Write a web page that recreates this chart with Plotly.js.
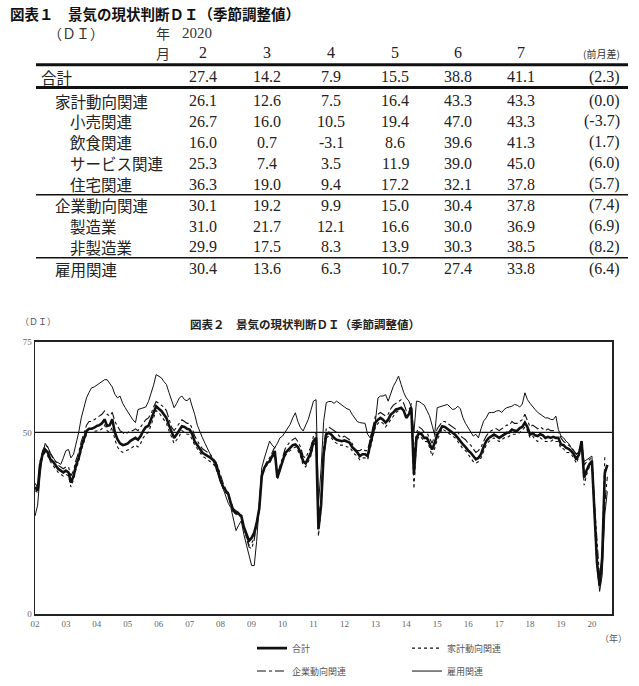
<!DOCTYPE html>
<html><head><meta charset="utf-8">
<script src="https://cdn.plot.ly/plotly-3.0.1.min.js"></script>
<style>html,body{margin:0;padding:0;background:#fff}#chart{width:639px;height:686px}</style>
</head><body><div id="chart"></div>
<script>
// ---------- chart data (monthly, Jan 2002 - Jul 2020) ----------
const startYear = 2002;
const seriesNames = ['合計', '家計動向関連', '企業動向関連', '雇用関連'];
const total = [
 35,34,41,44,45.3,44.5,42.6,42,41,40,39.5,39,
 39.5,39,36.2,38,41,43,46,48.5,50.4,51,51,51.3,
 51.8,52,52.5,53.6,51.8,52,53.6,50,48.1,47,46.5,46.7,
 47,47.7,48,48.5,48,49,50.4,51.5,51.8,53.5,55.5,57.2,
 56.5,55.9,55,54,52,50,48.5,49.5,50.5,51.7,51.5,51,
 50.8,49.5,47.5,46.3,45.5,44.4,44,43.5,43.1,42.5,41.7,39.5,
 36.7,35,34,33,30.5,28.4,28,27.5,27.1,24,22,20.2,
 21,22.5,25,29,38,40.3,41.5,42.1,43.5,44.9,37.6,40,
 42.5,44.3,45,45.8,46.5,46.7,46,44.5,42.1,41.5,43,44.4,
 47.6,48.5,23.4,30,44,49.5,49.9,49.4,48.5,48,47.8,47.6,
 47.8,47.5,47.2,46,45.3,44.5,43.5,44,44,43.5,46.7,50,
 52.7,53.5,54,53.5,52.7,53.5,54.9,55.5,56.3,56.5,56.8,56,
 54,55,56.8,38.5,48.5,49.9,49.5,48.5,48.5,47,45.3,47,
 49.4,50.5,51.7,51.5,51,50.4,50,49.4,48.5,47.5,46.7,46,
 45,44.4,43.5,42.6,43,44,46,47.6,48.5,49,49.4,49,
 48.5,49,49.5,49.9,50,50.8,50.5,50.4,51.2,51.5,52.7,51.5,
 49.4,49.8,49.2,49,49.5,49.2,48.5,48.8,48.5,48.8,48.5,48.5,
 46.7,46.5,45.8,45.5,44.9,44,42.6,44,47.6,37.6,39.7,41.2,
 42.1,27.4,14.2,7.9,15.5,38.8,41.1
];
const household = [
 34,33.5,40.5,43.5,44.5,43.5,42,41,40,39,38.5,38,
 38.5,38,35,37,40,42,45,47.5,49.5,50,50,50.3,
 50.5,50.5,51,52,50.5,50,51.5,48,46,45,44.5,44.8,
 45,45.5,46,46.5,46,47,48.5,49.5,50,52,54,56,
 55.5,54.5,53.5,52.5,50.5,48.5,47,48,49,50.5,50,49.5,
 49.5,48,46.5,45.5,44.5,43.5,43,42.5,42,41.5,40.5,38.5,
 36,34.5,33.5,32.5,30,28,27.5,27,27,23.5,21.5,19,
 19.5,21,24.5,28.5,37.5,40,41,41.5,43,44,37,39.5,
 42,43.5,44.5,45,45.5,46,45,43.5,41,40.5,42,43.5,
 46.5,47.5,21.5,29,43,48.5,49,48.5,47.5,47,46.5,46.5,
 46.5,46,46,45,44,43.5,42.5,43,43,42.5,45.5,49,
 51.5,52.5,53,52.5,51.5,52.5,53.5,54.5,55.5,56,56.5,56,
 54,55.5,58,34.5,47.5,49,48.5,47.5,47.5,46,43.5,45.5,
 48,49.5,51,50.5,50,49.5,49,48.5,47.5,46.5,45.5,45,
 44,43,42,41.5,42,43,45,46.5,47.5,48,48.5,48,
 47.5,48,48.5,48.5,49,49.5,49.5,49.5,50,50.5,51.5,50.5,
 48.5,49,48,47.5,48.5,48,47.5,47.5,47.5,48,47.5,47.5,
 45.5,45.5,44.5,44.5,44,43,41.5,43.5,48,35.5,38.5,40.5,
 41.5,26.1,12.6,7.5,16.4,43.3,43.3
];
const corporate = [
 36,35,42,45,46.5,46,44,43,42,41,40.5,40,
 40.5,40.5,38,39.5,42.5,44.5,47.5,50,52,53,53,53.5,
 54,54.5,55,55.9,55,54.5,55.5,53,51.5,50.5,50,49.5,
 50,50.5,50.5,51,50.5,51.5,52.5,53.5,54,55,57,58.5,
 58,57.5,57,56,54,51.5,50.5,51.5,52.5,53.5,53,52.5,
 52.5,51,49,47.5,46.5,45.5,45,44.5,44,43,42,40.5,
 38,36,34.5,33.5,31,29,28.5,28,26.5,23.5,21,18.5,
 18,20.5,25,30,38.5,40.5,42,43,44.5,46,38.5,41,
 43.5,45.5,46.5,47.5,48,48.5,47.5,46,43.5,43,44.5,46,
 49,50,24,32,46,51,51.5,51,50.5,50,49,48.5,
 49,48.5,48,47,45.5,45,45,45.5,45,45,48,51,
 54.5,55,55.5,55,54.5,55,56.5,57.5,58,58.5,59,58,
 56,56.5,57,44,50,51.5,51,50,50,48.5,47,49,
 51,52,53,53,52.5,52,51.5,51,50,49,48.5,48,
 47,46.5,45.5,44.5,45,46,47.5,49,50,50.5,51,51,
 50.5,51,51.5,52,52,53,52.5,52.5,53,53.5,55,53.5,
 51.5,52,51.5,51,51.5,51,50.5,51,50.5,50.5,50,50,
 48.5,47.5,47,46.5,46,45,44,45,47,41,42,42.5,
 43,30.1,19.2,9.9,15.0,30.4,37.8
];
const employment = [
 27,30,38,44,47,46,44.4,43,42,41.7,41.2,43,
 45,45.3,43,44,47,50,54,57,59.5,61,62.3,62.5,
 63,63.5,64,64.5,64.5,63.5,62.5,60.5,59.5,60,58,56.8,
 55.5,54.5,53.5,52.7,56.3,56.5,56.8,57,58.5,60.5,63,65.9,
 65.5,65,64,63.2,61,58.5,56.8,58,59.5,60,59,58.7,
 59.5,57,55,52,50,48.5,47,45.5,44,42.5,40.5,38.5,
 36.6,34,32,30.5,29.3,26,23,24.5,25.7,22,19.3,16,
 13.4,13.4,20,30,40.3,43,45,47.6,46.5,45.8,47,48.5,
 49,50,51,52.2,54,55.4,53,51.3,50.4,52,53.6,56,
 58.6,59,30.3,40,53,58.2,58.5,58.5,58,58.6,58,57.5,
 57,56.5,56.3,55,54,53,52.7,52.5,52.5,49.5,48.5,51,
 53,59.5,60,60,60.4,58.6,60.5,62.7,64,65.5,63.2,61,
 59.5,58.6,57,50,58.6,58.5,58,57.5,56,54.6,52,49.4,
 56.8,57,57.3,57.5,57.7,57,56.3,56.5,57.2,56.5,54,52.5,
 51.2,50,49,49.5,48.5,51,53.1,54,55.4,55.5,55.5,55.9,
 56,55.5,56.3,56.8,57,57.2,57.7,57.5,57,57.8,60.9,59,
 58,57,56.3,55.5,54.9,54.5,54,54,53.6,53.5,54.5,50.8,
 49,48.5,47.6,47,45.8,45,44,44.5,47.6,42,42.5,43,
 43.5,30.4,13.6,6.3,10.7,27.4,33.8
];
const yTicks = [0, 50, 75];

// ---------- table data ----------
const tableYear = '2020';
const tableMonths = ['2', '3', '4', '5', '6', '7'];
const rowLabels = ['合計', '家計動向関連', '小売関連', '飲食関連', 'サービス関連', '住宅関連', '企業動向関連', '製造業', '非製造業', '雇用関連'];
const rowGokei    = [27.4, 14.2, 7.9, 15.5, 38.8, 41.1];
const rowKakei    = [26.1, 12.6, 7.5, 16.4, 43.3, 43.3];
const rowKouri    = [26.7, 16.0, 10.5, 19.4, 47.0, 43.3];
const rowInshoku  = [16.0, 0.7, -3.1, 8.6, 39.6, 41.3];
const rowService  = [25.3, 7.4, 3.5, 11.9, 39.0, 45.0];
const rowJutaku   = [36.3, 19.0, 9.4, 17.2, 32.1, 37.8];
const rowKigyo    = [30.1, 19.2, 9.9, 15.0, 30.4, 37.8];
const rowSeizo    = [31.0, 21.7, 12.1, 16.6, 30.0, 36.9];
const rowHiseizo  = [29.9, 17.5, 8.3, 13.9, 30.3, 38.5];
const rowKoyo     = [30.4, 13.6, 6.3, 10.7, 27.4, 33.8];
const rowDiffs    = [2.3, 0.0, -3.7, 1.7, 6.0, 5.7, 7.4, 6.9, 8.2, 6.4];

// ---------- layout helpers (styles/positions) ----------
const W = 639, H = 686;
const PX = p => p / W;
const PY = p => 1 - p / H;
const JP = '"Noto Sans CJK JP", "Noto Sans", sans-serif';
const SERIF = '"Liberation Serif", "DejaVu Serif", serif';
const rowValues = [rowGokei, rowKakei, rowKouri, rowInshoku, rowService, rowJutaku, rowKigyo, rowSeizo, rowHiseizo, rowKoyo];
const rowIndent = [0, 1, 2, 2, 2, 2, 1, 2, 2, 1];
const indentX = [39, 53, 68];
const rowY = [77, 101, 122, 143, 164, 185, 206, 227, 248, 270];
const colX = [203, 267, 331, 395, 458, 521];

const x = total.map((_, i) => {
  const y = startYear + Math.floor(i / 12);
  const m = (i % 12) + 1;
  return y + '-' + String(m).padStart(2, '0') + '-01';
});

const styles = [
  {width: 2.6, dash: 'solid', legend: 'legend'},
  {width: 1.1, dash: 'dot', legend: 'legend'},
  {width: 1.1, dash: 'dashdot', legend: 'legend2'},
  {width: 1.0, dash: 'solid', legend: 'legend2'}
];
const dataSeries = [total, household, corporate, employment];
const traces = dataSeries.map((ys, k) => ({
  type: 'scatter', mode: 'lines', x: x, y: ys, name: seriesNames[k],
  line: {color: '#111', width: styles[k].width, dash: styles[k].dash},
  legend: styles[k].legend, hoverinfo: 'skip'
}));

const ann = [];
const txt = (t, px, py, o) => ann.push(Object.assign({
  text: t, x: PX(px), y: PY(py), xref: 'paper', yref: 'paper', showarrow: false,
  xanchor: 'left', yanchor: 'middle', font: {family: JP, size: 15, color: '#222'}
}, o || {}));

// table title + headers
txt('<b>図表１　景気の現状判断ＤＩ（季節調整値）</b>', 8, 14, {font: {family: JP, size: 14.5, color: '#111'}});
txt('（ＤＩ）', 46, 33, {font: {family: JP, size: 14, color: '#333'}});
txt('年', 163, 33, {xanchor: 'center', font: {family: JP, size: 14, color: '#333'}});
txt(tableYear, 180, 33, {font: {family: SERIF, size: 15, color: '#333'}});
txt('月', 163, 53, {xanchor: 'center', font: {family: JP, size: 14, color: '#333'}});
tableMonths.forEach((m, c) => txt(m, colX[c], 53, {xanchor: 'center', font: {family: SERIF, size: 16, color: '#222'}}));
txt('(前月差)', 601, 54, {xanchor: 'center', font: {family: JP, size: 10, color: '#333'}});

rowLabels.forEach((lab, r) => {
  txt(lab, indentX[rowIndent[r]], rowY[r], {font: {family: JP, size: 15.5, color: '#222'}});
  rowValues[r].forEach((v, c) => txt(v.toFixed(1), colX[c], rowY[r], {xanchor: 'center', font: {family: SERIF, size: 16, color: '#222'}}));
  txt('(' + rowDiffs[r].toFixed(1) + ')', 622, rowY[r], {xanchor: 'right', font: {family: SERIF, size: 16, color: '#222'}});
});

// chart texts
txt('（ＤＩ）', 18, 323, {font: {family: JP, size: 9, color: '#555'}});
txt('<b>図表２　景気の現状判断ＤＩ（季節調整値）</b>', 305, 325, {xanchor: 'center', font: {family: JP, size: 11.5, color: '#222'}});
txt('（年）', 613, 641, {xanchor: 'center', font: {family: JP, size: 9, color: '#555'}});

const hline = (y, w) => ({type: 'line', xref: 'paper', yref: 'paper', x0: PX(36), x1: PX(628), y0: PY(y), y1: PY(y), line: {color: '#111', width: w}});
const shapes = [
  hline(65, 3), hline(88, 3), hline(195.5, 1.5), hline(259, 1.5),
  {type: 'line', xref: 'x domain', yref: 'y', x0: 0, x1: 1, y0: 50, y1: 50, line: {color: '#111', width: 1.2}}
];

const layout = {
  width: W, height: H,
  margin: {l: 0, r: 0, t: 0, b: 0},
  paper_bgcolor: '#fff', plot_bgcolor: '#fff',
  font: {family: JP, color: '#333'},
  xaxis: {
    type: 'date', domain: [PX(35), PX(612)], anchor: 'y',
    range: ['2002-01-01', '2020-08-25'],
    tick0: '2002-01-01', dtick: 'M12', tickformat: '%y',
    ticks: '', showgrid: false, zeroline: false,
    showline: true, linecolor: '#222', linewidth: 1.5, mirror: true,
    tickfont: {family: SERIF, size: 9, color: '#666'}, automargin: false
  },
  yaxis: {
    domain: [1 - 617 / H, 1 - 343 / H], anchor: 'x',
    range: [0, 75], tickvals: yTicks, ticktext: yTicks.map(String),
    ticks: '', showgrid: false, zeroline: false,
    showline: true, linecolor: '#222', linewidth: 1.5, mirror: true,
    tickfont: {family: SERIF, size: 9, color: '#666'}, automargin: false
  },
  legend: {
    orientation: 'h', x: PX(252), y: PY(651), xanchor: 'left', yanchor: 'middle',
    entrywidth: 110, entrywidthmode: 'pixels', itemwidth: 30,
    font: {family: JP, size: 9, color: '#555'}, bgcolor: 'rgba(0,0,0,0)'
  },
  legend2: {
    orientation: 'h', x: PX(252), y: PY(674), xanchor: 'left', yanchor: 'middle',
    entrywidth: 110, entrywidthmode: 'pixels', itemwidth: 30,
    font: {family: JP, size: 9, color: '#555'}, bgcolor: 'rgba(0,0,0,0)'
  },
  showlegend: true,
  annotations: ann,
  shapes: shapes
};

Plotly.newPlot('chart', traces, layout, {displayModeBar: false, staticPlot: true});
</script>
</body></html>
